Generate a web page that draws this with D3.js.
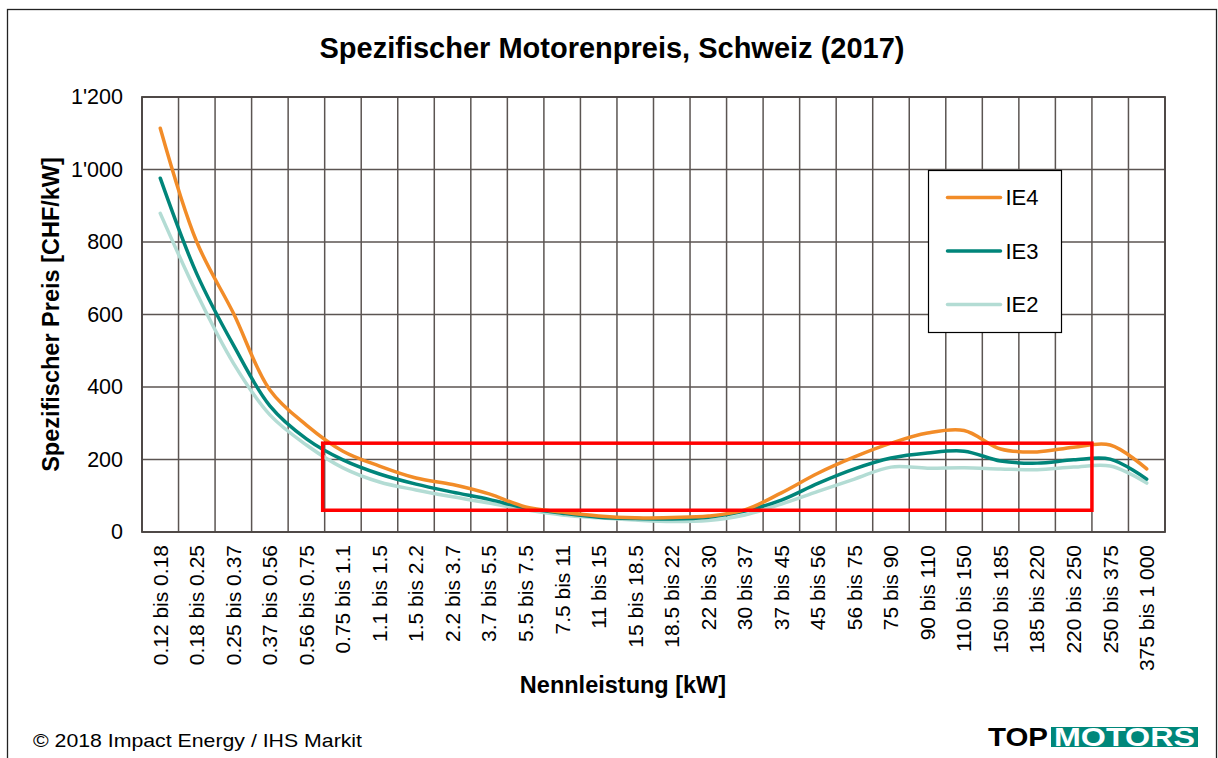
<!DOCTYPE html>
<html lang="de">
<head>
    <meta charset="UTF-8">
    <title>Spezifischer Motorenpreis, Schweiz (2017)</title>
    <style>
        body {
            margin: 0;
            padding: 0;
            background: #fff;
            font-family: 'Liberation Sans', Arial, sans-serif;
        }
        svg text { fill: #000; }
        .grid line { stroke: #5b5552; stroke-width: 1.5px; }
        .axis path, .axis line { stroke: none; }
        .series { fill: none; stroke-width: 3.5px; stroke-linecap: round; stroke-linejoin: round; }
    </style>
</head>
<body>
    <div id="chart"></div>

    <script src="https://d3js.org/d3.v7.min.js"></script>
    <script>
        // categories (Nennleistung, kW)
        const categories = [
            "0.12 bis 0.18", "0.18 bis 0.25", "0.25 bis 0.37", "0.37 bis 0.56", "0.56 bis 0.75",
            "0.75 bis 1.1", "1.1 bis 1.5", "1.5 bis 2.2", "2.2 bis 3.7", "3.7 bis 5.5",
            "5.5 bis 7.5", "7.5 bis 11", "11 bis 15", "15 bis 18.5", "18.5 bis 22",
            "22 bis 30", "30 bis 37", "37 bis 45", "45 bis 56", "56 bis 75",
            "75 bis 90", "90 bis 110", "110 bis 150", "150 bis 185", "185 bis 220",
            "220 bis 250", "250 bis 375", "375 bis 1 000"
        ];

        // CHF/kW
        const ie4 = [1114, 800, 604, 392, 295, 223, 182, 149, 131, 105,
                     69, 55, 44, 39, 40, 44, 61, 108, 162, 207,
                     245, 273, 280, 229, 221, 234, 240, 174];
        const ie3 = [976, 712, 516, 348, 257, 199, 160, 132, 110, 90,
                     66, 52, 41, 37, 36, 41, 58, 88, 134, 174,
                     204, 218, 223, 196, 190, 199, 201, 146];
        const ie2 = [879, 658, 466, 323, 240, 177, 138, 116, 97, 80,
                     61, 47, 39, 33, 29, 32, 47, 77, 112, 146,
                     179, 176, 177, 174, 172, 179, 182, 135];

        const seriesNames = ["IE4", "IE3", "IE2"];
        const seriesColors = ["#f28c28", "#00857a", "#b3dcd4"];

        const yTicks = [0, 200, 400, 600, 800, 1000, 1200];
        const yTickLabels = ["0", "200", "400", "600", "800", "1'000", "1'200"];

        // highlighted region (red frame)
        const highlightFrom = "0.75 bis 1.1";
        const highlightTo = "250 bis 375";
        const highlightRange = [60, 245];

        const W = 1218, H = 758;
        const margin = { left: 142, right: 53, top: 97, bottom: 226 };
        const innerW = W - margin.left - margin.right;
        const innerH = H - margin.top - margin.bottom;

        const svg = d3.select("#chart").append("svg")
            .attr("width", W)
            .attr("height", H);

        // outer frame
        svg.append("rect")
            .attr("x", 7.5).attr("y", 9.5)
            .attr("width", 1209).attr("height", 770)
            .attr("fill", "none")
            .attr("stroke", "#222")
            .attr("stroke-width", 1.3);

        svg.append("text")
            .attr("x", 612).attr("y", 58)
            .attr("text-anchor", "middle")
            .style("font-size", "29px")
            .style("font-weight", "bold")
            .text("Spezifischer Motorenpreis, Schweiz (2017)");

        const g = svg.append("g")
            .attr("transform", `translate(${margin.left},${margin.top})`);

        const x = d3.scaleBand()
            .domain(categories)
            .range([0, innerW]);

        const y = d3.scaleLinear()
            .domain([0, 1200])
            .range([innerH, 0]);

        // grid
        const grid = g.append("g").attr("class", "grid");
        grid.selectAll(".h")
            .data(yTicks)
            .enter().append("line")
            .attr("x1", 0).attr("x2", innerW)
            .attr("y1", d => y(d)).attr("y2", d => y(d));
        grid.selectAll(".v")
            .data(categories.concat(["__end"]))
            .enter().append("line")
            .attr("x1", (d, i) => i < categories.length ? x(d) : innerW)
            .attr("x2", (d, i) => i < categories.length ? x(d) : innerW)
            .attr("y1", 0).attr("y2", innerH);

        // y axis
        const yAxis = g.append("g")
            .attr("class", "axis")
            .call(d3.axisLeft(y)
                .tickValues(yTicks)
                .tickSize(0)
                .tickPadding(19)
                .tickFormat((d, i) => yTickLabels[i]));
        yAxis.selectAll("text")
            .style("font-size", "21.5px")
            .style("font-family", "'Liberation Sans', Arial, sans-serif");

        // x axis
        const xAxis = g.append("g")
            .attr("class", "axis")
            .attr("transform", `translate(0,${innerH})`)
            .call(d3.axisBottom(x).tickSize(0).tickPadding(0));
        xAxis.selectAll("text")
            .attr("transform", "translate(0,13) rotate(-90)")
            .attr("x", 0).attr("y", 0)
            .attr("dy", "0.35em")
            .attr("text-anchor", "end")
            .style("font-size", "21px")
            .style("font-family", "'Liberation Sans', Arial, sans-serif");

        svg.append("text")
            .attr("transform", `translate(59,${margin.top + innerH / 2}) rotate(-90)`)
            .attr("text-anchor", "middle")
            .style("font-size", "23.5px")
            .style("font-weight", "bold")
            .text("Spezifischer Preis [CHF/kW]");

        svg.append("text")
            .attr("x", 623).attr("y", 693)
            .attr("text-anchor", "middle")
            .style("font-size", "23.5px")
            .style("font-weight", "bold")
            .text("Nennleistung [kW]");

        // series
        const line = d3.line()
            .x((d, i) => x(categories[i]) + x.bandwidth() / 2)
            .y(d => y(d))
            .curve(d3.curveCatmullRom.alpha(0.5));

        const allSeries = [ie2, ie3, ie4];
        const drawOrder = [2, 1, 0];
        allSeries.forEach((vals, k) => {
            g.append("path")
                .datum(vals)
                .attr("class", "series")
                .attr("stroke", seriesColors[drawOrder[k]])
                .attr("d", line);
        });

        // red frame
        const hx0 = x(highlightFrom) - 2;
        const hx1 = x(highlightTo);
        g.append("rect")
            .attr("x", hx0)
            .attr("y", y(highlightRange[1]))
            .attr("width", hx1 - hx0)
            .attr("height", y(highlightRange[0]) - y(highlightRange[1]))
            .attr("fill", "none")
            .attr("stroke", "#ff0000")
            .attr("stroke-width", 3.5);

        // plot border on top
        g.append("rect")
            .attr("width", innerW).attr("height", innerH)
            .attr("fill", "none")
            .attr("stroke", "#4a4442")
            .attr("stroke-width", 1.8);

        // legend
        const legend = svg.append("g").attr("transform", "translate(928.5,170.5)");
        legend.append("rect")
            .attr("width", 133).attr("height", 162)
            .attr("fill", "#fff")
            .attr("stroke", "#000")
            .attr("stroke-width", 1.2);
        seriesNames.forEach((name, i) => {
            const ly = 27 + i * 53.5;
            legend.append("line")
                .attr("x1", 19).attr("x2", 72)
                .attr("y1", ly).attr("y2", ly)
                .attr("stroke", seriesColors[i])
                .attr("stroke-width", 3.5)
                .attr("stroke-linecap", "round");
            legend.append("text")
                .attr("x", 77).attr("y", ly)
                .attr("dy", "0.36em")
                .style("font-size", "22px")
                .text(name);
        });

        // footer
        svg.append("text")
            .attr("x", 33).attr("y", 747)
            .attr("textLength", 329)
            .attr("lengthAdjust", "spacingAndGlyphs")
            .style("font-size", "19px")
            .text("\u00a9 2018 Impact Energy / IHS Markit");

        const logo = svg.append("g").attr("transform", "translate(988,746)");
        logo.append("text")
            .attr("x", 0).attr("y", 0)
            .attr("textLength", 60)
            .attr("lengthAdjust", "spacingAndGlyphs")
            .style("font-size", "25px")
            .style("font-weight", "bold")
            .text("TOP");
        logo.append("rect")
            .attr("x", 63).attr("y", -19)
            .attr("width", 147).attr("height", 20)
            .attr("fill", "#00877a");
        logo.append("text")
            .attr("x", 66).attr("y", 0)
            .attr("textLength", 141)
            .attr("lengthAdjust", "spacingAndGlyphs")
            .style("font-size", "25px")
            .style("font-weight", "bold")
            .style("fill", "#fff")
            .text("MOTORS");
    </script>
</body>
</html>
